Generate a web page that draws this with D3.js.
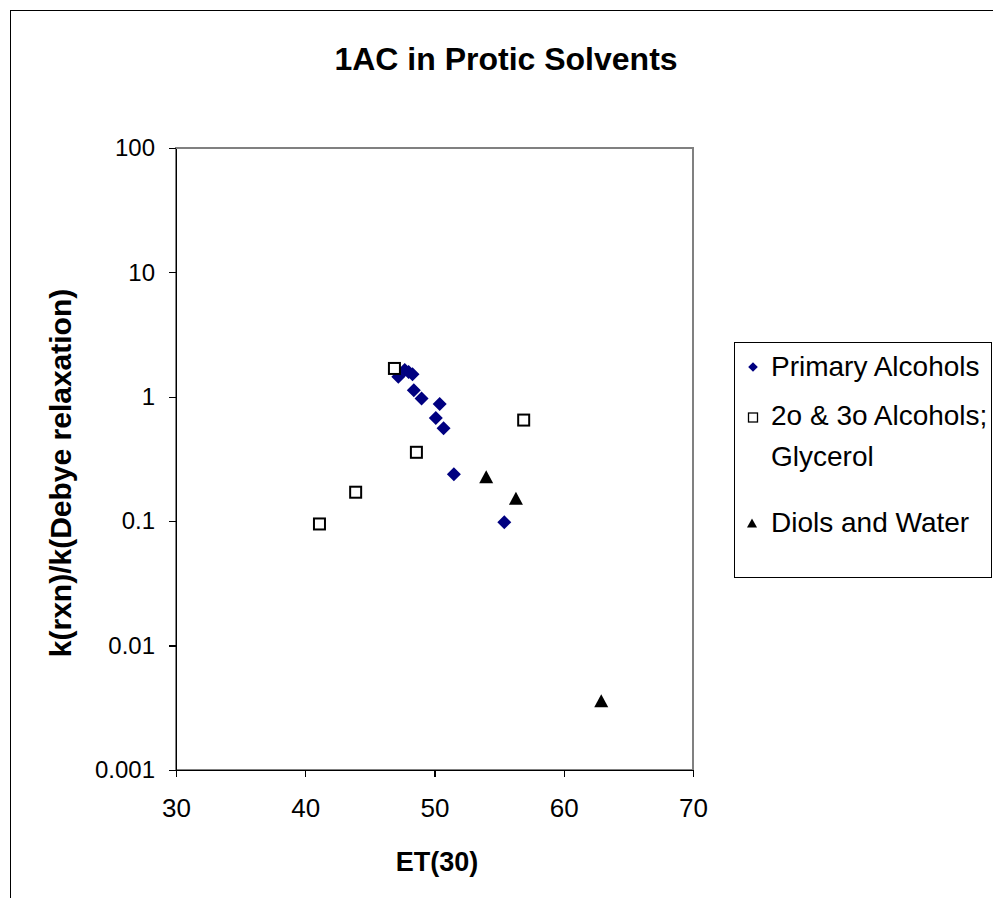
<!DOCTYPE html>
<html>
  <head>
    <meta charset="utf-8">
    <title>1AC in Protic Solvents</title>
    <style>
    body { margin: 0; background: #fff; }
    text { font-family: "Liberation Sans", Arial, sans-serif; fill: #000; }
    </style>
  </head>
  <body>
    <script src="https://d3js.org/d3.v7.min.js"></script>
    <script>
      // Data: ET(30) vs k(rxn)/k(Debye relaxation)
      var primaryX = [47.2, 47.7, 48.0, 48.3, 48.4, 49.0, 50.4, 50.1, 50.7, 51.5, 55.4];
      var primaryY = [1.45, 1.64, 1.58, 1.52, 1.13, 0.97, 0.875, 0.676, 0.56, 0.239, 0.098];
      var secondaryX = [46.9, 48.6, 56.9, 43.9, 41.1];
      var secondaryY = [1.69, 0.358, 0.65, 0.171, 0.095];
      var diolsX = [54.0, 56.3, 62.9];
      var diolsY = [0.228, 0.153, 0.0036];

      var xTicks = [30, 40, 50, 60, 70];
      var yTicks = [100, 10, 1, 0.1, 0.01, 0.001];
      var yTickLabels = ["100", "10", "1", "0.1", "0.01", "0.001"];
      var seriesNames = ["Primary Alcohols", "2o & 3o Alcohols;", "Diols and Water"];

      var width = 993, height = 898;
      var svg = d3.select("body").append("svg")
        .attr("width", width)
        .attr("height", height);

      svg.append("rect").attr("width", width).attr("height", height).attr("fill", "#fff");

      // outer chart border (runs off the right and bottom)
      svg.append("rect")
        .attr("x", 10.5).attr("y", 10.5)
        .attr("width", 1100).attr("height", 1100)
        .attr("fill", "none").attr("stroke", "#000").attr("stroke-width", 1);

      // plot area
      var plotLeft = 176, plotRight = 693, plotTop = 148, plotBottom = 770;
      var x = d3.scaleLinear().domain([30, 70]).range([plotLeft, plotRight]);
      var y = d3.scaleLog().domain([0.001, 100]).range([plotBottom, plotTop]);

      svg.append("rect")
        .attr("x", plotLeft).attr("y", plotTop)
        .attr("width", plotRight - plotLeft).attr("height", plotBottom - plotTop)
        .attr("fill", "none").attr("stroke", "#808080").attr("stroke-width", 2);

      // axes
      var yAxis = d3.axisLeft(y)
        .tickValues(yTicks)
        .tickSize(7).tickSizeOuter(0).tickPadding(14)
        .tickFormat(function(d, i) { return yTickLabels[i]; });
      var gy = svg.append("g").attr("transform", "translate(" + plotLeft + ",0)").call(yAxis);

      var xAxis = d3.axisBottom(x)
        .tickValues(xTicks)
        .tickSize(7).tickSizeOuter(0).tickPadding(22)
        .tickFormat(d3.format("d"));
      var gx = svg.append("g").attr("transform", "translate(0," + plotBottom + ")").call(xAxis);

      [gx, gy].forEach(function(g) {
        g.selectAll("path, line").attr("stroke", "#000").attr("stroke-width", 1.2).attr("shape-rendering", "crispEdges");
        g.selectAll("text").attr("font-family", "Liberation Sans, Arial, sans-serif").attr("fill", "#000");
      });
      gy.selectAll("text").attr("font-size", "24px");
      gx.selectAll("text").attr("font-size", "26px");

      // marker shapes
      function diamond(r) { return "M0," + (-r) + "L" + r + ",0L0," + r + "L" + (-r) + ",0Z"; }
      function triangle(w, h) { return "M0," + (-h / 2) + "L" + (w / 2) + "," + (h / 2) + "L" + (-w / 2) + "," + (h / 2) + "Z"; }

      svg.append("g").selectAll("path")
        .data(d3.zip(primaryX, primaryY))
        .enter().append("path")
        .attr("transform", function(d) { return "translate(" + x(d[0]) + "," + y(d[1]) + ")"; })
        .attr("d", diamond(7))
        .attr("fill", "#000080");

      svg.append("g").selectAll("rect")
        .data(d3.zip(secondaryX, secondaryY))
        .enter().append("rect")
        .attr("x", function(d) { return x(d[0]) - 5.5; })
        .attr("y", function(d) { return y(d[1]) - 5.5; })
        .attr("width", 11).attr("height", 11)
        .attr("fill", "#fff").attr("stroke", "#000").attr("stroke-width", 2);

      svg.append("g").selectAll("path")
        .data(d3.zip(diolsX, diolsY))
        .enter().append("path")
        .attr("transform", function(d) { return "translate(" + x(d[0]) + "," + y(d[1]) + ")"; })
        .attr("d", triangle(14, 13))
        .attr("fill", "#000");

      // titles
      svg.append("text")
        .attr("x", 506).attr("y", 70)
        .attr("text-anchor", "middle")
        .attr("font-size", "32px").attr("font-weight", "bold")
        .text("1AC in Protic Solvents");

      svg.append("text")
        .attr("x", 437).attr("y", 871)
        .attr("text-anchor", "middle")
        .attr("font-size", "27px").attr("font-weight", "bold")
        .text("ET(30)");

      svg.append("text")
        .attr("transform", "translate(71,473) rotate(-90)")
        .attr("text-anchor", "middle")
        .attr("font-size", "30px").attr("font-weight", "bold")
        .text("k(rxn)/k(Debye relaxation)");

      // legend
      var legend = svg.append("g");
      legend.append("rect")
        .attr("x", 734.5).attr("y", 342.5)
        .attr("width", 257).attr("height", 235)
        .attr("fill", "#fff").attr("stroke", "#000").attr("stroke-width", 1);

      legend.append("path").attr("transform", "translate(753,367)").attr("d", diamond(4.8)).attr("fill", "#000080");
      legend.append("rect").attr("x", 748.5).attr("y", 413).attr("width", 9).attr("height", 9)
        .attr("fill", "#fff").attr("stroke", "#000").attr("stroke-width", 1.3);
      legend.append("path").attr("transform", "translate(752,523)").attr("d", triangle(10, 9)).attr("fill", "#000");

      legend.append("text").attr("x", 771).attr("y", 376).attr("font-size", "28px").text(seriesNames[0]);
      legend.append("text").attr("x", 771).attr("y", 425).attr("font-size", "28px").text(seriesNames[1]);
      legend.append("text").attr("x", 771).attr("y", 466).attr("font-size", "28px").text("Glycerol");
      legend.append("text").attr("x", 771).attr("y", 532).attr("font-size", "28px").text(seriesNames[2]);
    </script>
  </body>
</html>
